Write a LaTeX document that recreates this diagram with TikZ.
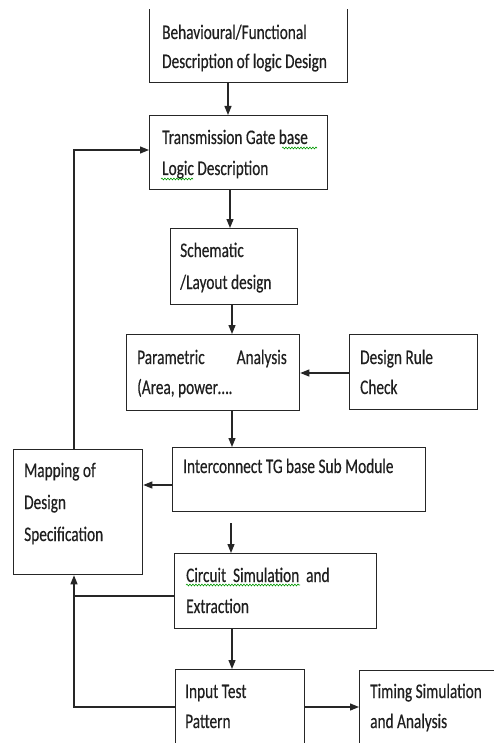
\documentclass[tikz,border=0pt]{standalone}
\usepackage{fontspec}
\setmainfont{Carlito}[FakeStretch=0.74,FakeBold=0.35]
\usetikzlibrary{arrows.meta,decorations.pathmorphing}
\begin{document}
\begin{tikzpicture}[x=1pt,y=-1pt,
  box/.style={draw=black!85, line width=1.3pt, rectangle, inner sep=0pt, anchor=north west},
  txt/.style={anchor=base west, inner sep=0pt, font=\fontsize{20.7}{30}\selectfont, text=black!88},
  arr/.style={draw=black!85, line width=1.2pt, -{Triangle[length=9pt,width=7pt]}},
  ln/.style={draw=black!85, line width=1.2pt},
  wavy/.style={draw=green!60!black, line width=0.6pt, decorate,
    decoration={snake, amplitude=0.9pt, segment length=3pt}}]
\useasboundingbox (0,0) rectangle (494,743);
\clip (0,0) rectangle (494,743);
\fill[white] (0,0) rectangle (494,743);

% boxes
\begin{scope}
  \clip (0,10) rectangle (494,743);
  \node[box, minimum width=198pt, minimum height=92pt] (b1) at (149,-10) {};
\end{scope}
\node[box, minimum width=178pt, minimum height=74pt] (b2) at (149,115) {};
\node[box, minimum width=127pt, minimum height=76pt] (b3) at (170,228) {};
\node[box, minimum width=173pt, minimum height=76pt] (b4) at (126,334) {};
\node[box, minimum width=128pt, minimum height=75pt] (b5) at (349,334) {};
\node[box, minimum width=129pt, minimum height=125pt] (b6) at (13,449) {};
\node[box, minimum width=253pt, minimum height=64pt] (b7) at (172,447) {};
\node[box, minimum width=202pt, minimum height=75pt] (b8) at (174,553) {};
\node[box, minimum width=129pt, minimum height=90pt] (b9) at (175,669) {};
\node[box, minimum width=160pt, minimum height=90pt] (b10) at (359,670) {};

% texts
\node[txt] (t1a) at (162,39) {Behavioural/Functional};
\node[txt] (t1b) at (162,68) {Description of logic Design};
\node[txt] (t2a) at (162,144) {Transmission Gate base};
\node[txt] (t2b) at (162,175) {Logic Description};
\node[txt] (t3a) at (180,257) {Schematic};
\node[txt] (t3b) at (180,289) {/Layout design};
\node[txt] (t4a) at (137,364) {Parametric};
\node[txt, anchor=base east] (t4c) at (287,364) {Analysis};
\node[txt] (t4b) at (137,394) {(Area, power\dots.};
\node[txt] (t5a) at (360,364) {Design Rule};
\node[txt] (t5b) at (360,394) {Check};
\node[txt] (t6a) at (24,477) {Mapping of};
\node[txt] (t6b) at (24,509) {Design};
\node[txt] (t6c) at (24,541) {Specification};
\node[txt] (t7a) at (183,473) {Interconnect TG base Sub Module};
\node[txt] (t8a) at (186,582) {Circuit\, Simulation\, and};
\node[txt] (t8b) at (186,613) {Extraction};
\node[txt] (t9a) at (185,698) {Input Test};
\node[txt] (t9b) at (185,728) {Pattern};
\node[txt] (t10a) at (370,698) {Timing Simulation};
\node[txt] (t10b) at (370,728) {and Analysis};

% spell-check underlines
\draw[wavy] (282,148) -- (317,148);
\draw[wavy] (161,179) -- (193,179);
\draw[wavy] (186,585) -- (300,585);

% helper coordinates
\coordinate (xa) at (228,0);
\coordinate (xb) at (230,0);
\coordinate (xc) at (232,0);
\coordinate (xd) at (231,0);
\coordinate (fx) at (74,0);
\coordinate (ya) at (0,373);
\coordinate (yb) at (0,485);
\coordinate (yc) at (0,596);
\coordinate (yd) at (0,707);
\coordinate (ye) at (0,150);

% connectors
\draw[arr] (xa |- b1.south) -- (xa |- b2.north);
\draw[arr] (xb |- b2.south) -- (xb |- b3.north);
\draw[arr] (xc |- b3.south) -- (xc |- b4.north);
\draw[arr] (b5.west |- ya) -- (b4.east |- ya);
\draw[arr] (xc |- b4.south) -- (xc |- b7.north);
\draw[arr] (b7.west |- yb) -- (b6.east |- yb);
\draw[arr, shorten <=11pt] (xd |- b7.south) -- (xd |- b8.north);
\draw[arr] (xc |- b8.south) -- (xc |- b9.north);
\draw[arr] (b9.east |- yd) -- (b10.west |- yd);
\draw[ln] (b8.west |- yc) -- (fx |- yc);
\draw[arr] (b9.west |- yd) -- (fx |- yd) -- (fx |- b6.south);
\draw[arr] (fx |- b6.north) -- (fx |- ye) -- (b2.west |- ye);
\end{tikzpicture}
\end{document}
